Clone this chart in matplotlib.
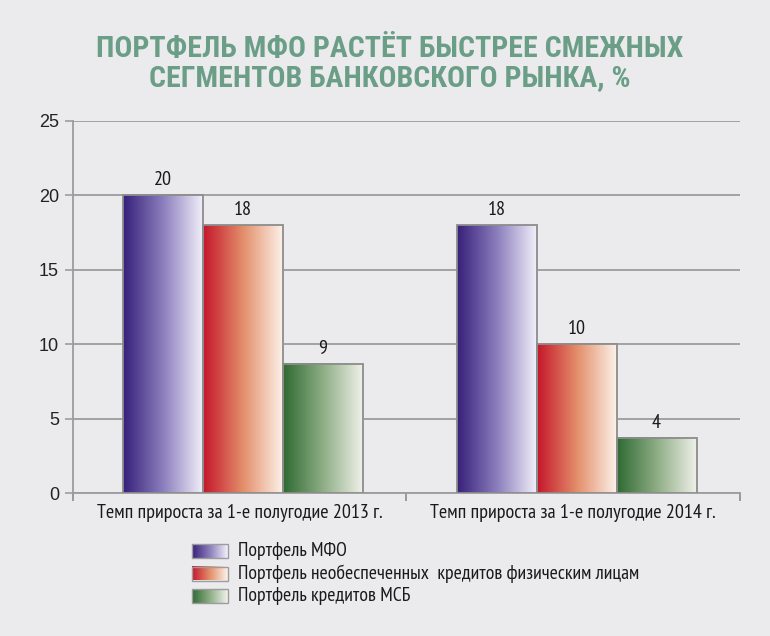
import numpy as np
import matplotlib.pyplot as plt
from matplotlib.colors import LinearSegmentedColormap

# data
categories = ["Темп прироста за 1-е полугодие 2013 г.",
              "Темп прироста за 1-е полугодие 2014 г."]
series = ["Портфель МФО",
          "Портфель необеспеченных  кредитов физическим лицам",
          "Портфель кредитов МСБ"]
mfo = [20, 18]
unsecured = [18, 10]
msb = [8.7, 3.7]
labels_mfo = ["20", "18"]
labels_unsecured = ["18", "10"]
labels_msb = ["9", "4"]
yticks = [0, 5, 10, 15, 20, 25]

bg = "#ebebed"
narrow = ["PT Sans Narrow", "Roboto Condensed", "DejaVu Sans"]
title_font = ["Roboto Condensed", "PT Sans Narrow", "DejaVu Sans"]
gradients = [
    ["#37207a", "#8c7fbd", "#f4f2fb"],
    ["#c4162a", "#e3906c", "#fdf4ec"],
    ["#2f6a33", "#8fae86", "#f2f3ec"],
]
cmaps = [LinearSegmentedColormap.from_list("g%d" % i, c) for i, c in enumerate(gradients)]
ramp = np.linspace(0, 1, 256).reshape(1, -1)

fig = plt.figure(figsize=(7.7, 6.36), dpi=100, facecolor=bg)
ax = fig.add_axes([0.0948, 0.2248, 0.8662, 0.585])
ax.set_facecolor(bg)

x = np.arange(len(categories))
width = 0.24
data = [mfo, unsecured, msb]
labs = [labels_mfo, labels_unsecured, labels_msb]
for i, (vals, lab) in enumerate(zip(data, labs)):
    pos = x + (i - 1) * width
    for p, v, t in zip(pos, vals, lab):
        ax.imshow(ramp, cmap=cmaps[i], aspect="auto",
                  extent=[p - width / 2, p + width / 2, 0, v], zorder=3)
        ax.text(p, v + 0.4, t, ha="center", va="bottom", fontsize=14.5,
                family=narrow, color="#1a1a1a", zorder=4)
    ax.bar(pos, vals, width, facecolor="none", edgecolor="#8c8c8c",
           linewidth=1.3, zorder=4)

ax.set_xlim(-0.51, 1.49)
ax.set_ylim(0, 25)
ax.set_yticks(yticks)
ax.set_yticklabels([str(t) for t in yticks], fontsize=13,
                   family=["Liberation Sans", "DejaVu Sans"], color="#222222")
ax.yaxis.grid(True, color="#9c9c9c", linewidth=1.3, zorder=1)
ax.set_axisbelow(True)
ax.tick_params(axis="y", length=6, width=1.2, color="#9c9c9c", pad=4)

ax.set_xticks([-0.51, 0.49, 1.49])
ax.set_xticklabels([])
ax.tick_params(axis="x", length=6, width=1.2, color="#8c8c8c")
for xi, c in zip(x, categories):
    ax.text(xi - 0.01, -0.75, c, ha="center", va="top", fontsize=14.5,
            family=narrow, color="#1a1a1a")

for s in ["top", "right"]:
    ax.spines[s].set_visible(False)
for s in ["left", "bottom"]:
    ax.spines[s].set_color("#9c9c9c")
    ax.spines[s].set_linewidth(1.3)

fig.text(0.506, 0.923, "ПОРТФЕЛЬ МФО РАСТЁТ БЫСТРЕЕ СМЕЖНЫХ",
         ha="center", va="center", fontsize=21.5, fontweight=900,
         family=title_font, color="#6a9e87")
fig.text(0.506, 0.877, "СЕГМЕНТОВ БАНКОВСКОГО РЫНКА, %",
         ha="center", va="center", fontsize=21.5, fontweight=900,
         family=title_font, color="#6a9e87")

# legend with gradient swatches
lax = fig.add_axes([0, 0, 1, 1])
lax.axis("off")
for i, name in enumerate(series):
    yc = 551 + i * 22.5
    lax.imshow(ramp, cmap=cmaps[i], aspect="auto",
               extent=[192, 228, yc + 7, yc - 7], zorder=2)
    lax.add_patch(plt.Rectangle((192, yc - 7), 36, 14, fill=False,
                                edgecolor="#9c9c9c", linewidth=1, zorder=3))
    lax.text(238, yc, name, ha="left", va="center", fontsize=14.2,
             family=narrow, color="#1a1a1a")
lax.set_xlim(0, 770)
lax.set_ylim(636, 0)

fig.savefig("out.png", dpi=100, facecolor=bg)
